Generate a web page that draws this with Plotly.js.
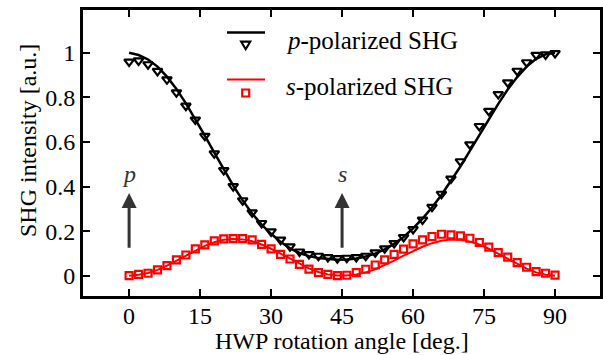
<!DOCTYPE html>
<html><head><meta charset="utf-8">
<script src="https://cdn.plot.ly/plotly-3.0.1.min.js"></script>
<style>html,body{margin:0;padding:0;background:#fff}#chart{width:603px;height:355px}</style>
</head><body><div id="chart"></div>
<script>
const angle = [0,2,4,6,8,10,12,14,16,18,20,22,24,26,28,30,32,34,36,38,40,42,44,46,48,50,52,54,56,58,60,62,64,66,68,70,72,74,76,78,80,82,84,86,88,90];

const pMeasured = [0.96,0.965,0.948,0.918,0.88,0.822,0.762,0.70,0.627,0.548,
  0.473,0.401,0.338,0.284,0.236,0.198,0.161,0.131,0.108,0.096,
  0.089,0.083,0.078,0.08,0.083,0.089,0.104,0.122,0.146,0.173,
  0.209,0.251,0.308,0.367,0.435,0.513,0.589,0.671,0.739,0.814,
  0.867,0.919,0.957,0.99,0.992,0.998];

const pFit = [1.0,0.99,0.97,0.938,0.893,0.838,0.773,0.703,0.628,0.552,
  0.476,0.404,0.338,0.279,0.229,0.188,0.152,0.123,0.102,0.088,
  0.079,0.074,0.072,0.073,0.077,0.086,0.099,0.118,0.143,0.174,
  0.212,0.256,0.306,0.362,0.424,0.49,0.56,0.632,0.703,0.771,
  0.835,0.891,0.938,0.973,0.993,1.0];

const sMeasured = [0.0,0.006,0.011,0.026,0.045,0.071,0.093,0.12,0.138,0.156,
  0.165,0.166,0.166,0.161,0.141,0.12,0.096,0.075,0.051,0.03,
  0.014,0.006,0.0,0.002,0.014,0.029,0.048,0.071,0.096,0.119,
  0.143,0.161,0.176,0.186,0.183,0.179,0.168,0.149,0.128,0.104,
  0.083,0.059,0.038,0.018,0.011,0.003];

const sFit = [0.0,0.004,0.012,0.026,0.045,0.067,0.09,0.113,0.134,0.15,
  0.161,0.165,0.163,0.155,0.14,0.121,0.099,0.076,0.053,0.033,
  0.017,0.006,0.001,0.001,0.006,0.015,0.029,0.047,0.068,0.09,
  0.111,0.13,0.146,0.157,0.162,0.161,0.153,0.14,0.121,0.099,
  0.076,0.053,0.032,0.015,0.004,0.0];

const xTickVals = [0,15,30,45,60,75,90];
const yTickVals = [0,0.2,0.4,0.6,0.8,1];
const yTickText = ['0','0.2','0.4','0.6','0.8','1'];
const seriesNames = ['<i>p</i>-polarized SHG','<i>s</i>-polarized SHG'];
const arrowAngles = [0,45];
const arrowLabels = ['<i>p</i>','<i>s</i>'];

const FONT = 'Liberation Serif, Times New Roman, serif';
const FS = 24;

const traces = [
  {x: angle, y: sFit, mode:'lines', line:{color:'#ff0000', width:2}, showlegend:false, hoverinfo:'skip'},
  {x: angle, y: sMeasured, mode:'markers', marker:{symbol:'square-open', size:7, color:'#ff0000', line:{width:2.2, color:'#ff0000'}}, showlegend:false},
  {x: angle, y: pFit, mode:'lines', line:{color:'#000000', width:2.5}, showlegend:false, hoverinfo:'skip'},
  {x: angle, y: pMeasured, mode:'markers', marker:{symbol:'triangle-down-open', size:8.5, color:'#000000', line:{width:2.2, color:'#000000'}}, showlegend:false}
];

// plot area geometry (pixels) for legend placement
const L = 83, R = 3, T = 10, B = 59, W = 603, H = 355;
const pw = W - L - R, ph = H - T - B;
const fx = px => (px - L) / pw;
const fy = py => (H - B - py) / ph;

const annotations = [];
arrowAngles.forEach((a, i) => {
  annotations.push({x:a, y:0.371, ax:a, ay:0.119, xref:'x', yref:'y', axref:'x', ayref:'y',
    showarrow:true, arrowhead:2, arrowsize:1, arrowwidth:3, arrowcolor:'#333333', standoff:0, text:''});
  annotations.push({x:a, y:0.456, xref:'x', yref:'y', showarrow:false, text:arrowLabels[i],
    font:{family:FONT, size:FS, color:'#333333'}, xanchor:'center', yanchor:'middle'});
});
annotations.push({x:fx(284), y:fy(40), xref:'paper', yref:'paper', showarrow:false, text:seriesNames[0],
  font:{family:FONT, size:25, color:'#000'}, xanchor:'left', yanchor:'middle'});
annotations.push({x:fx(284), y:fy(86), xref:'paper', yref:'paper', showarrow:false, text:seriesNames[1],
  font:{family:FONT, size:25, color:'#000'}, xanchor:'left', yanchor:'middle'});
annotations.push({x:fx(28), y:fy(141), xref:'paper', yref:'paper', showarrow:false, text:'SHG intensity [a.u.]',
  textangle:-90, font:{family:FONT, size:FS, color:'#000'}, xanchor:'center', yanchor:'middle'});
annotations.push({x:fx(341.5), y:fy(341), xref:'paper', yref:'paper', showarrow:false, text:'HWP rotation angle [deg.]',
  font:{family:FONT, size:24, color:'#000'}, xanchor:'center', yanchor:'middle'});

const shapes = [
  {type:'line', xref:'paper', yref:'paper', x0:fx(227), x1:fx(265), y0:fy(32.5), y1:fy(32.5), line:{color:'#000', width:2.5}},
  {type:'line', xref:'paper', yref:'paper', x0:fx(227), x1:fx(265), y0:fy(79.5), y1:fy(79.5), line:{color:'#ff0000', width:2}},
  {type:'path', xref:'paper', yref:'paper', xsizemode:'pixel', ysizemode:'pixel', xanchor:fx(245.7), yanchor:fy(44),
    path:'M-4.5,2.3 L4.5,2.3 L0,-5.2 Z', line:{color:'#000', width:2.2}, fillcolor:'rgba(0,0,0,0)'},
  {type:'rect', xref:'paper', yref:'paper', xsizemode:'pixel', ysizemode:'pixel', xanchor:fx(245.7), yanchor:fy(93),
    x0:-3.5, x1:3.5, y0:-3.5, y1:3.5, line:{color:'#ff0000', width:2.2}, fillcolor:'rgba(0,0,0,0)'}
];

const axisCommon = {
  ticks:'inside', ticklen:7, tickwidth:2, tickcolor:'#000',
  showline:true, linewidth:3, linecolor:'#000', mirror:'ticks',
  showgrid:false, zeroline:false,
  tickfont:{family:FONT, size:FS, color:'#000'}
};

const layout = {
  width:W, height:H,
  margin:{l:L, r:R, t:T, b:B, pad:0},
  paper_bgcolor:'#fff', plot_bgcolor:'#fff',
  showlegend:false,
  xaxis: Object.assign({}, axisCommon, {range:[-9.74, 99.5], tickvals:xTickVals, ticktext:xTickVals.map(String), ticklabelstandoff:-4}),
  yaxis: Object.assign({}, axisCommon, {range:[-0.091, 1.192], tickvals:yTickVals, ticktext:yTickText}),
  annotations: annotations,
  shapes: shapes
};

Plotly.newPlot('chart', traces, layout, {displayModeBar:false, staticPlot:true});
</script>
</body></html>
